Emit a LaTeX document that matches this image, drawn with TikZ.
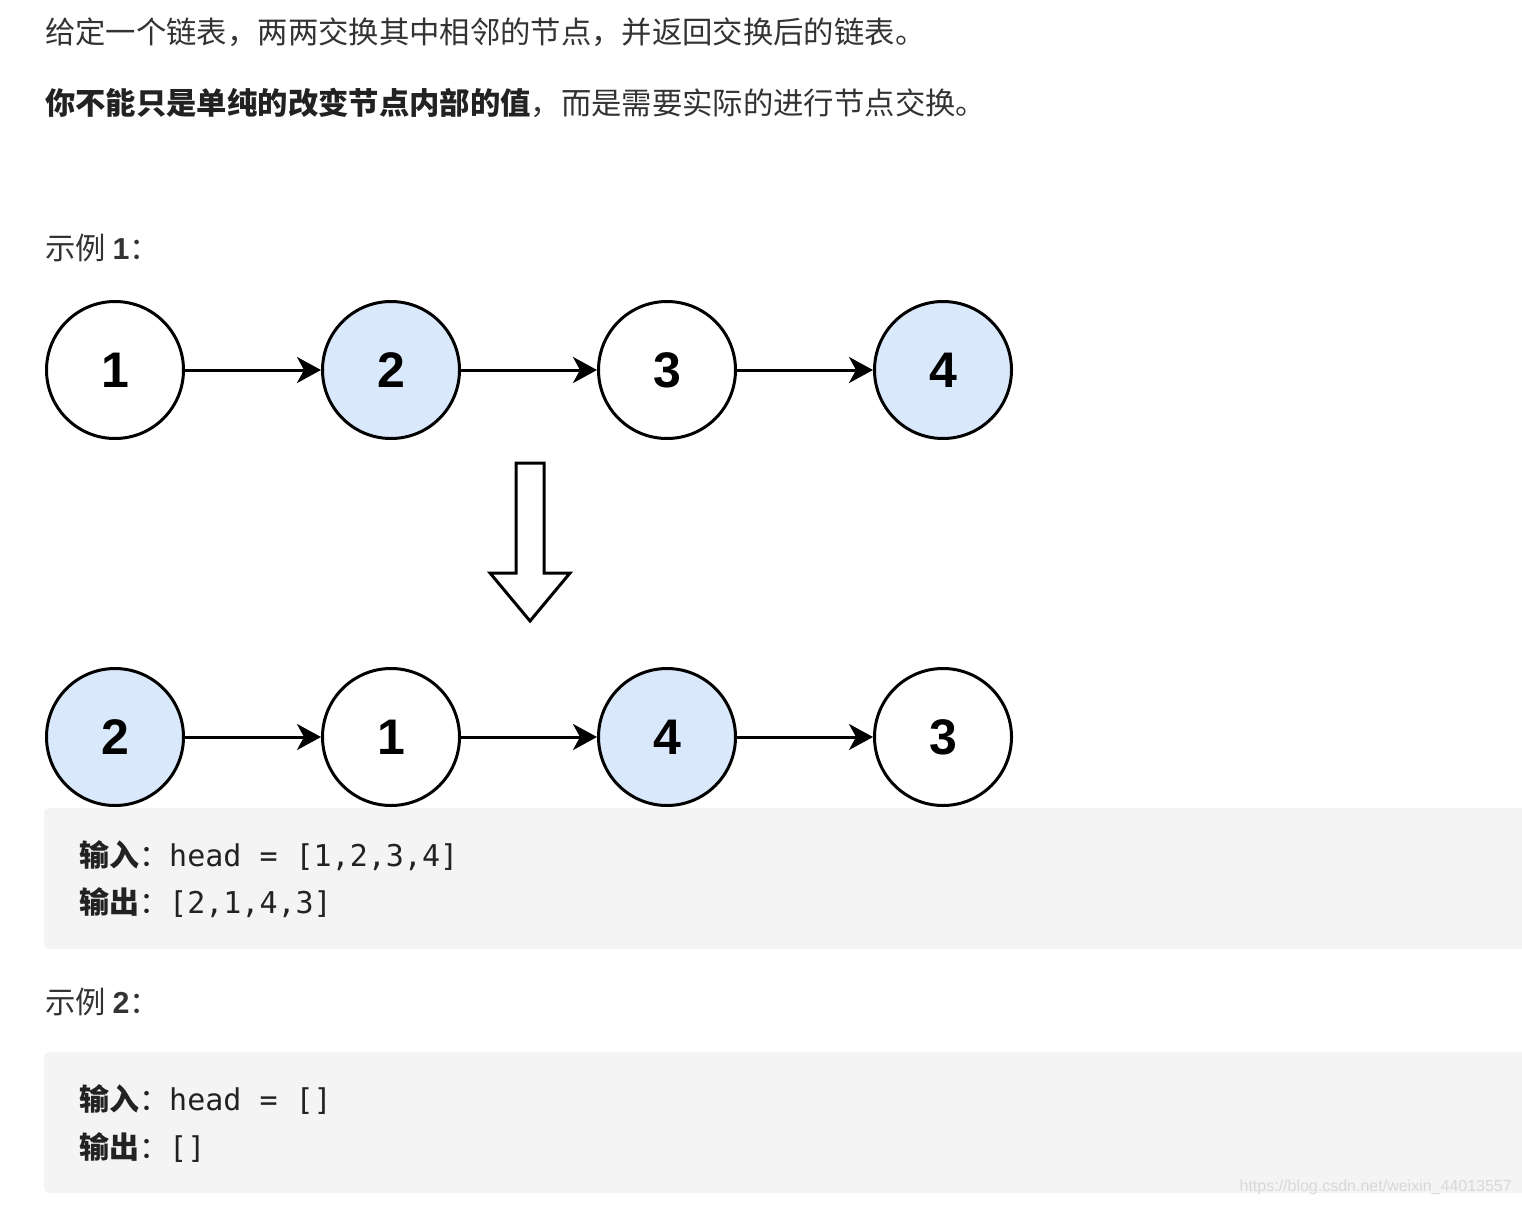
\documentclass[tikz,border=0pt]{standalone}
\usepackage{fontspec}
\setmainfont{Liberation Sans}
\setmonofont{DejaVu Sans Mono}
\newfontfamily\cjk{Noto Sans CJK SC}
\usepackage{tikz}
\usetikzlibrary{arrows.meta}

\definecolor{nodeblue}{HTML}{DAE8FC}
\definecolor{codebg}{HTML}{F4F4F4}
\definecolor{bodytxt}{HTML}{333333}
\definecolor{codetxt}{HTML}{222222}
\definecolor{wmark}{HTML}{D8D8D8}

\tikzset{
  nd/.style={circle,draw=black,line width=3pt,minimum size=137pt,inner sep=0pt,
    font=\fontsize{50}{60}\selectfont\bfseries},
  bl/.style={nd,fill=nodeblue},
  nx/.style={-{Stealth[length=24pt,width=26pt,inset=7pt]},line width=3pt},
  para/.style={anchor=base west,inner sep=0pt,text=bodytxt,
    font=\fontsize{30.35}{36}\selectfont\cjk},
  code/.style={anchor=base west,inner sep=0pt,text=codetxt,
    font=\fontsize{30}{36}\selectfont},
}

\begin{document}
\begin{tikzpicture}[x=1pt,y=-1pt]
\useasboundingbox (0,0) rectangle (1522,1204);
\clip (0,0) rectangle (1522,1204);

\node[para] (t1) at (45,44) {给定一个链表，两两交换其中相邻的节点，并返回交换后的链表。};
\node[para] (t2) at (45,115) {{\bfseries\color{codetxt}你不能只是单纯的改变节点内部的值}，而是需要实际的进行节点交换。};
\node[para] (ex1) at (45,259) {示例 {\rmfamily\bfseries 1}：};

%-------------------------------------
\node[nd] (a1) at (115,370) {1};
\node[bl] (a2) at (391,370) {2};
\node[nd] (a3) at (667,370) {3};
\node[bl] (a4) at (943,370) {4};
\draw[nx] (a1) -- (a2);
\draw[nx] (a2) -- (a3);
\draw[nx] (a3) -- (a4);

\draw[line width=3pt] (516,463) -- (544,463) -- (544,573) -- (570,573)
  -- (530,621) -- (490,573) -- (516,573) -- cycle;

\node[bl] (b1) at (115,737) {2};
\node[nd] (b2) at (391,737) {1};
\node[bl] (b3) at (667,737) {4};
\node[nd] (b4) at (943,737) {3};
\draw[nx] (b1) -- (b2);
\draw[nx] (b2) -- (b3);
\draw[nx] (b3) -- (b4);

%-------------------------------------
\fill[codebg,rounded corners=5pt] (44,808) rectangle (1540,949);
\node[code] (in1) at (79,866) {{\cjk\bfseries 输入}{\cjk ：}\texttt{head = [1,2,3,4]}};
\node[code] (out1) at (79,913) {{\cjk\bfseries 输出}{\cjk ：}\texttt{[2,1,4,3]}};

\node[para] (ex2) at (45,1013) {示例 {\rmfamily\bfseries 2}：};

\fill[codebg,rounded corners=5pt] (44,1052) rectangle (1540,1193);
\node[code] (in2) at (79,1110) {{\cjk\bfseries 输入}{\cjk ：}\texttt{head = []}};
\node[code] (out2) at (79,1158) {{\cjk\bfseries 输出}{\cjk ：}\texttt{[]}};

\node[anchor=base east,inner sep=0pt,text=wmark,font=\fontsize{16}{19}\selectfont]
  (wm) at (1512,1191) {https://blog.csdn.net/weixin\_44013557};
\end{tikzpicture}
\end{document}
